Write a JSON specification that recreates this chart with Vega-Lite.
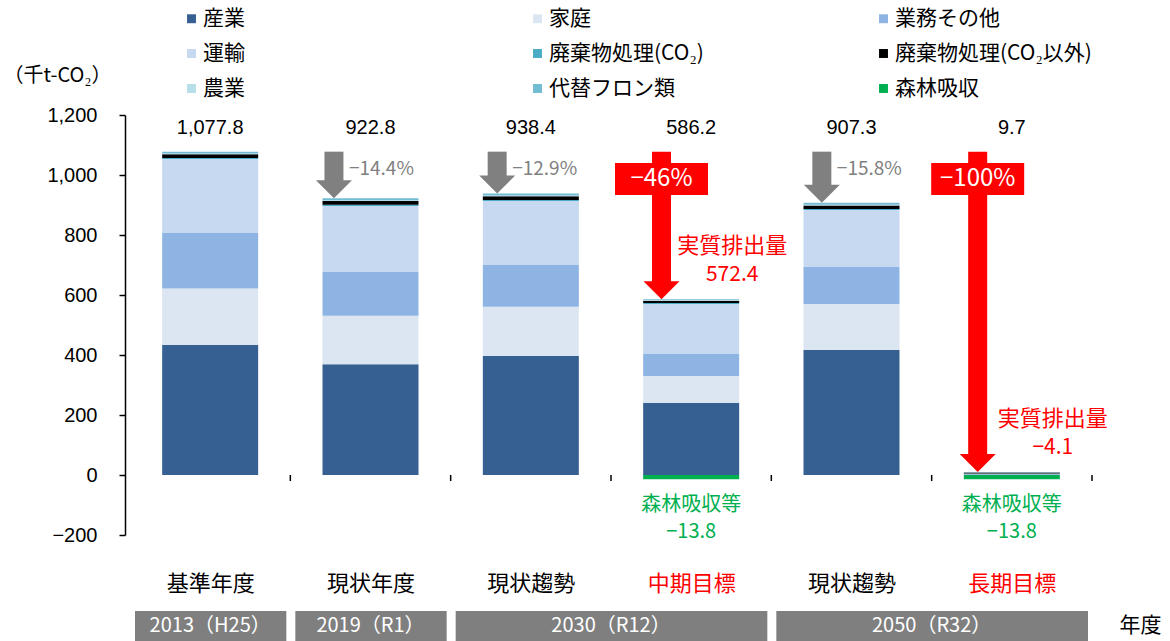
{
  "$schema": "https://vega.github.io/schema/vega-lite/v6.json",
  "width": 972,
  "height": 420,
  "autosize": {"type": "none"},
  "padding": {"left": 125, "top": 115, "right": 73, "bottom": 106},
  "background": "white",
  "config": {"font": "Noto Sans CJK JP", "view": {"stroke": null}, "axis": {"grid": false}},
  "datasets": {
    "bars": [
      {"区分": "基準年度", "位置": 0.5, "系列": "産業", "k": 1, "値": 433},
      {"区分": "基準年度", "位置": 0.5, "系列": "家庭", "k": 2, "値": 189},
      {"区分": "基準年度", "位置": 0.5, "系列": "業務その他", "k": 3, "値": 185},
      {"区分": "基準年度", "位置": 0.5, "系列": "運輸", "k": 4, "値": 246},
      {"区分": "基準年度", "位置": 0.5, "系列": "廃棄物処理(CO₂)", "k": 5, "値": 4},
      {"区分": "基準年度", "位置": 0.5, "系列": "廃棄物処理(CO₂以外)", "k": 6, "値": 12},
      {"区分": "基準年度", "位置": 0.5, "系列": "農業", "k": 7, "値": 3},
      {"区分": "基準年度", "位置": 0.5, "系列": "代替フロン類", "k": 8, "値": 5.8},
      {"区分": "現状年度", "位置": 1.5, "系列": "産業", "k": 1, "値": 369},
      {"区分": "現状年度", "位置": 1.5, "系列": "家庭", "k": 2, "値": 162},
      {"区分": "現状年度", "位置": 1.5, "系列": "業務その他", "k": 3, "値": 146},
      {"区分": "現状年度", "位置": 1.5, "系列": "運輸", "k": 4, "値": 220},
      {"区分": "現状年度", "位置": 1.5, "系列": "廃棄物処理(CO₂)", "k": 5, "値": 4},
      {"区分": "現状年度", "位置": 1.5, "系列": "廃棄物処理(CO₂以外)", "k": 6, "値": 12},
      {"区分": "現状年度", "位置": 1.5, "系列": "農業", "k": 7, "値": 3},
      {"区分": "現状年度", "位置": 1.5, "系列": "代替フロン類", "k": 8, "値": 6.8},
      {"区分": "現状趨勢2030", "位置": 2.5, "系列": "産業", "k": 1, "値": 397},
      {"区分": "現状趨勢2030", "位置": 2.5, "系列": "家庭", "k": 2, "値": 164},
      {"区分": "現状趨勢2030", "位置": 2.5, "系列": "業務その他", "k": 3, "値": 139},
      {"区分": "現状趨勢2030", "位置": 2.5, "系列": "運輸", "k": 4, "値": 213},
      {"区分": "現状趨勢2030", "位置": 2.5, "系列": "廃棄物処理(CO₂)", "k": 5, "値": 4},
      {"区分": "現状趨勢2030", "位置": 2.5, "系列": "廃棄物処理(CO₂以外)", "k": 6, "値": 12},
      {"区分": "現状趨勢2030", "位置": 2.5, "系列": "農業", "k": 7, "値": 3},
      {"区分": "現状趨勢2030", "位置": 2.5, "系列": "代替フロン類", "k": 8, "値": 6.4},
      {"区分": "中期目標", "位置": 3.5, "系列": "産業", "k": 1, "値": 240},
      {"区分": "中期目標", "位置": 3.5, "系列": "家庭", "k": 2, "値": 90},
      {"区分": "中期目標", "位置": 3.5, "系列": "業務その他", "k": 3, "値": 73},
      {"区分": "中期目標", "位置": 3.5, "系列": "運輸", "k": 4, "値": 167},
      {"区分": "中期目標", "位置": 3.5, "系列": "廃棄物処理(CO₂)", "k": 5, "値": 3},
      {"区分": "中期目標", "位置": 3.5, "系列": "廃棄物処理(CO₂以外)", "k": 6, "値": 8},
      {"区分": "中期目標", "位置": 3.5, "系列": "農業", "k": 7, "値": 2},
      {"区分": "中期目標", "位置": 3.5, "系列": "代替フロン類", "k": 8, "値": 3.2},
      {"区分": "中期目標", "位置": 3.5, "系列": "森林吸収", "k": 9, "値": -13.8},
      {"区分": "現状趨勢2050", "位置": 4.5, "系列": "産業", "k": 1, "値": 417},
      {"区分": "現状趨勢2050", "位置": 4.5, "系列": "家庭", "k": 2, "値": 153},
      {"区分": "現状趨勢2050", "位置": 4.5, "系列": "業務その他", "k": 3, "値": 123},
      {"区分": "現状趨勢2050", "位置": 4.5, "系列": "運輸", "k": 4, "値": 190},
      {"区分": "現状趨勢2050", "位置": 4.5, "系列": "廃棄物処理(CO₂)", "k": 5, "値": 4},
      {"区分": "現状趨勢2050", "位置": 4.5, "系列": "廃棄物処理(CO₂以外)", "k": 6, "値": 11},
      {"区分": "現状趨勢2050", "位置": 4.5, "系列": "農業", "k": 7, "値": 3},
      {"区分": "現状趨勢2050", "位置": 4.5, "系列": "代替フロン類", "k": 8, "値": 6.3},
      {"区分": "長期目標", "位置": 5.5, "系列": "産業", "k": 1, "値": 2},
      {"区分": "長期目標", "位置": 5.5, "系列": "家庭", "k": 2, "値": 0.5},
      {"区分": "長期目標", "位置": 5.5, "系列": "業務その他", "k": 3, "値": 0.5},
      {"区分": "長期目標", "位置": 5.5, "系列": "運輸", "k": 4, "値": 1.5},
      {"区分": "長期目標", "位置": 5.5, "系列": "廃棄物処理(CO₂)", "k": 5, "値": 0.5},
      {"区分": "長期目標", "位置": 5.5, "系列": "廃棄物処理(CO₂以外)", "k": 6, "値": 3},
      {"区分": "長期目標", "位置": 5.5, "系列": "農業", "k": 7, "値": 1},
      {"区分": "長期目標", "位置": 5.5, "系列": "代替フロン類", "k": 8, "値": 0.7},
      {"区分": "長期目標", "位置": 5.5, "系列": "森林吸収", "k": 9, "値": -13.8}
    ],
    "totals": [
      {"位置": 0.5, "total": 1077.8},
      {"位置": 1.5, "total": 922.8},
      {"位置": 2.5, "total": 938.4},
      {"位置": 3.5, "total": 586.2},
      {"位置": 4.5, "total": 907.3},
      {"位置": 5.5, "total": 9.7}
    ],
    "arrows": [
      {"位置": 1.272, "tip": 922.8, "kind": "趨勢", "pct": "−14.4%"},
      {"位置": 2.29, "tip": 938.4, "kind": "趨勢", "pct": "−12.9%"},
      {"位置": 4.315, "tip": 907.3, "kind": "趨勢", "pct": "−15.8%"},
      {"位置": 3.315, "tip": 586.2, "kind": "目標", "pct": "−46%"},
      {"位置": 5.287, "tip": 9.7, "kind": "目標", "pct": "−100%"}
    ],
    "net": [
      {"位置": 3.5, "total": 586.2, "net": 572.4, "forest": -13.8},
      {"位置": 5.5, "total": 9.7, "net": -4.1, "forest": -13.8}
    ],
    "bounds": [{"境界": 1}, {"境界": 2}, {"境界": 3}, {"境界": 4}, {"境界": 5}, {"境界": 6}],
    "years": [
      {"年": "2013（H25）", "start": 0, "end": 1, "mid": 0.5},
      {"年": "2019（R1）", "start": 1, "end": 2, "mid": 1.5},
      {"年": "2030（R12）", "start": 2, "end": 4, "mid": 3},
      {"年": "2050（R32）", "start": 4, "end": 6, "mid": 5}
    ]
  },
  "layer": [
    {
      "data": {"name": "bars"},
      "mark": {"type": "bar", "width": 96, "orient": "vertical"},
      "encoding": {
        "x": {
          "field": "位置", "type": "quantitative",
          "scale": {"domain": [0, 6], "nice": false, "zero": false},
          "axis": {
            "values": [0.5, 1.5, 2.5, 3.5, 4.5, 5.5],
            "labelExpr": "['基準年度','現状年度','現状趨勢','中期目標','現状趨勢','長期目標'][floor(datum.value)]",
            "domain": false, "ticks": false, "tickSize": 0, "grid": false,
            "labelPadding": 48, "labelBaseline": "middle", "labelFontSize": 22,
            "labelFont": "Noto Sans CJK JP",
            "labelColor": {"condition": {"test": "datum.value == 3.5 || datum.value == 5.5", "value": "#FF0000"}, "value": "#000000"},
            "labelOverlap": false, "labelFlush": false, "labelBound": false,
            "title": "年度", "titleX": 1015, "titleY": 90, "titleAlign": "center",
            "titleBaseline": "middle", "titleFontSize": 21, "titleFontWeight": "normal",
            "titleColor": "#000000", "titleFont": "Noto Sans CJK JP"
          }
        },
        "y": {
          "field": "値", "type": "quantitative", "stack": "zero",
          "scale": {"domain": [-200, 1200], "nice": false},
          "axis": {
            "values": [-200, 0, 200, 400, 600, 800, 1000, 1200],
            "format": ",.0f", "grid": false,
            "domain": true, "domainColor": "#000000", "domainWidth": 1.5,
            "ticks": true, "tickColor": "#000000", "tickSize": 6, "tickWidth": 1.5,
            "labelFont": "Liberation Sans", "labelFontSize": 20, "labelColor": "#000000",
            "labelPadding": 22,
            "title": "（千t-CO₂）", "titleAngle": 0, "titleX": -68, "titleY": -40,
            "titleAlign": "center", "titleBaseline": "middle", "titleFontSize": 20,
            "titleFontWeight": "normal", "titleColor": "#000000", "titleFont": "Noto Sans CJK JP"
          }
        },
        "color": {
          "field": "系列", "type": "nominal",
          "scale": {
            "domain": ["産業", "家庭", "業務その他", "運輸", "廃棄物処理(CO₂)", "廃棄物処理(CO₂以外)", "農業", "代替フロン類", "森林吸収"],
            "range": ["#376092", "#DCE6F2", "#8EB4E3", "#C6D9F1", "#4BACC6", "#000000", "#B7DEE8", "#72BCD3", "#00B050"]
          },
          "legend": {
            "orient": "none", "legendX": 56, "legendY": -107, "direction": "horizontal",
            "columns": 3, "title": null, "symbolType": "square", "symbolSize": 80,
            "symbolStrokeWidth": 0, "labelFontSize": 21, "labelFont": "Noto Sans CJK JP",
            "labelColor": "#000000", "labelOffset": 1, "columnPadding": 127, "rowPadding": 13,
            "gridAlign": "all", "labelLimit": 400
          }
        },
        "order": {"field": "k", "type": "quantitative"}
      }
    },
    {
      "mark": {"type": "rule", "color": "#000000", "strokeWidth": 1.5},
      "encoding": {"x": {"datum": 0, "type": "quantitative"}, "x2": {"datum": 6}, "y": {"datum": 0, "type": "quantitative"}}
    },
    {
      "data": {"name": "bounds"},
      "mark": {"type": "rule", "color": "#000000", "strokeWidth": 1.5},
      "encoding": {"x": {"field": "境界", "type": "quantitative"}, "y": {"datum": 0, "type": "quantitative"}, "y2": {"datum": -20}}
    },
    {
      "mark": {"type": "rule", "color": "#000000", "strokeWidth": 2},
      "encoding": {"x": {"datum": 0.82, "type": "quantitative"}, "x2": {"datum": 6}, "y": {"datum": 1077.8, "type": "quantitative"}}
    },
    {
      "data": {"name": "arrows"},
      "transform": [{"filter": "datum.kind == '趨勢'"}],
      "mark": {"type": "rule", "color": "#808080", "strokeWidth": 19, "yOffset": -12},
      "encoding": {"x": {"field": "位置", "type": "quantitative"}, "y": {"field": "tip", "type": "quantitative"}, "y2": {"datum": 1077.8}}
    },
    {
      "data": {"name": "arrows"},
      "transform": [{"filter": "datum.kind == '趨勢'"}],
      "mark": {"type": "point", "shape": "M -1 -1 L 1 -1 L 0 0 Z", "size": 1296, "filled": true, "opacity": 1, "color": "#808080", "strokeWidth": 0},
      "encoding": {"x": {"field": "位置", "type": "quantitative"}, "y": {"field": "tip", "type": "quantitative"}}
    },
    {
      "data": {"name": "arrows"},
      "transform": [{"filter": "datum.kind == '趨勢'"}],
      "mark": {"type": "text", "color": "#808080", "fontSize": 19, "align": "left", "baseline": "middle", "dx": 15, "font": "Noto Sans CJK JP"},
      "encoding": {"x": {"field": "位置", "type": "quantitative"}, "y": {"datum": 1020, "type": "quantitative"}, "text": {"field": "pct"}}
    },
    {
      "data": {"name": "arrows"},
      "transform": [{"filter": "datum.kind == '目標'"}],
      "mark": {"type": "rule", "color": "#FF0000", "strokeWidth": 19, "yOffset": -12},
      "encoding": {"x": {"field": "位置", "type": "quantitative"}, "y": {"field": "tip", "type": "quantitative"}, "y2": {"datum": 1077.8}}
    },
    {
      "data": {"name": "arrows"},
      "transform": [{"filter": "datum.kind == '目標'"}],
      "mark": {"type": "point", "shape": "M -1 -1 L 1 -1 L 0 0 Z", "size": 1296, "filled": true, "opacity": 1, "color": "#FF0000", "strokeWidth": 0},
      "encoding": {"x": {"field": "位置", "type": "quantitative"}, "y": {"field": "tip", "type": "quantitative"}}
    },
    {
      "data": {"name": "arrows"},
      "transform": [{"filter": "datum.kind == '目標'"}],
      "mark": {"type": "point", "shape": "M -1 -0.344 L 1 -0.344 L 1 0.344 L -1 0.344 Z", "size": 8649, "filled": true, "opacity": 1, "color": "#FF0000", "strokeWidth": 0},
      "encoding": {"x": {"field": "位置", "type": "quantitative"}, "y": {"datum": 987, "type": "quantitative"}}
    },
    {
      "data": {"name": "arrows"},
      "transform": [{"filter": "datum.kind == '目標'"}],
      "mark": {"type": "text", "color": "#FFFFFF", "fontSize": 24, "align": "center", "baseline": "middle", "font": "Noto Sans CJK JP"},
      "encoding": {"x": {"field": "位置", "type": "quantitative"}, "y": {"datum": 987, "type": "quantitative"}, "text": {"field": "pct"}}
    },
    {
      "data": {"name": "totals"},
      "mark": {"type": "text", "color": "#000000", "fontSize": 20, "align": "center", "baseline": "middle", "font": "Liberation Sans"},
      "encoding": {"x": {"field": "位置", "type": "quantitative"}, "y": {"datum": 1157, "type": "quantitative"}, "text": {"field": "total", "type": "quantitative", "format": ",.1f"}}
    },
    {
      "data": {"name": "net"},
      "mark": {"type": "text", "color": "#FF0000", "fontSize": 22, "align": "center", "baseline": "middle", "dx": 41, "dy": -53, "text": "実質排出量", "font": "Noto Sans CJK JP"},
      "encoding": {"x": {"field": "位置", "type": "quantitative"}, "y": {"field": "total", "type": "quantitative"}}
    },
    {
      "data": {"name": "net"},
      "mark": {"type": "text", "color": "#FF0000", "fontSize": 21, "align": "center", "baseline": "middle", "dx": 41, "dy": -24, "font": "Noto Sans CJK JP"},
      "encoding": {"x": {"field": "位置", "type": "quantitative"}, "y": {"field": "total", "type": "quantitative"}, "text": {"field": "net", "type": "quantitative", "format": ".1f"}}
    },
    {
      "data": {"name": "net"},
      "mark": {"type": "text", "color": "#00B050", "fontSize": 20, "align": "center", "baseline": "middle", "dy": 26, "text": "森林吸収等", "font": "Noto Sans CJK JP"},
      "encoding": {"x": {"field": "位置", "type": "quantitative"}, "y": {"field": "forest", "type": "quantitative"}}
    },
    {
      "data": {"name": "net"},
      "mark": {"type": "text", "color": "#00B050", "fontSize": 20, "align": "center", "baseline": "middle", "dy": 53, "font": "Noto Sans CJK JP"},
      "encoding": {"x": {"field": "位置", "type": "quantitative"}, "y": {"field": "forest", "type": "quantitative"}, "text": {"field": "forest", "type": "quantitative", "format": ".1f"}}
    },
    {
      "data": {"name": "years"},
      "mark": {"type": "rect", "color": "#7F7F7F", "xOffset": 5, "x2Offset": -4},
      "encoding": {"x": {"field": "start", "type": "quantitative"}, "x2": {"field": "end"}, "y": {"datum": -453, "type": "quantitative"}, "y2": {"datum": -560}}
    },
    {
      "data": {"name": "years"},
      "mark": {"type": "text", "color": "#FFFFFF", "fontSize": 20, "align": "center", "baseline": "middle", "font": "Noto Sans CJK JP"},
      "encoding": {"x": {"field": "mid", "type": "quantitative"}, "y": {"datum": -503, "type": "quantitative"}, "text": {"field": "年"}}
    }
  ]
}
